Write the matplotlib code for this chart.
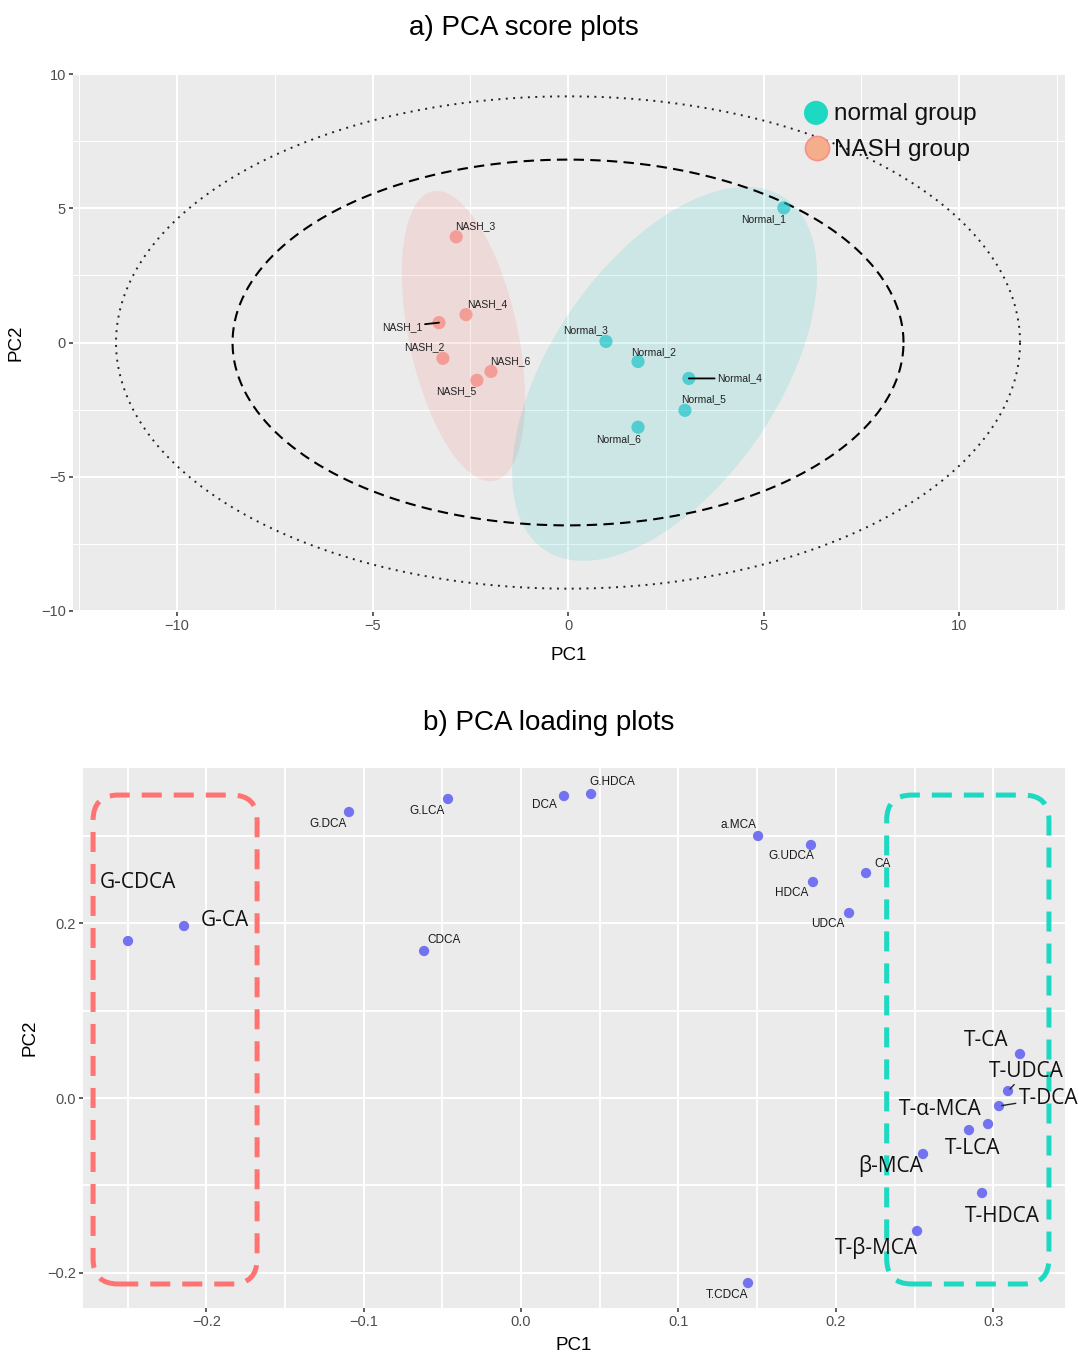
import numpy as np
import matplotlib
matplotlib.use("Agg")
import matplotlib.pyplot as plt
from matplotlib.patches import Polygon, FancyBboxPatch

plt.rcParams['font.family'] = ['Liberation Sans', 'DejaVu Sans']

# ---- a) PCA scores ----
nash_names = ["NASH_1", "NASH_2", "NASH_3", "NASH_4", "NASH_5", "NASH_6"]
nash_pc1 = [-3.30, -3.20, -2.86, -2.61, -2.33, -1.97]
nash_pc2 = [0.74, -0.59, 3.94, 1.04, -1.41, -1.08]

normal_names = ["Normal_1", "Normal_2", "Normal_3", "Normal_4", "Normal_5", "Normal_6"]
normal_pc1 = [5.52, 1.79, 0.97, 3.09, 2.99, 1.79]
normal_pc2 = [5.02, -0.71, 0.04, -1.34, -2.53, -3.16]

# group ellipses (centre, shape matrix)
nash_ell_center = (-2.675, 0.24)
nash_ell_shape = [[2.48, -3.7], [-3.7, 29.3]]
normal_ell_center = (2.47, -1.17)
normal_ell_shape = [[15.2, 14.5], [14.5, 48.6]]
# Hotelling T2 limits (semi-axes)
t2_95 = (8.58, 6.82)
t2_99 = (11.56, 9.18)

# ---- b) PCA loadings ----
small_names = ["G.DCA", "G.LCA", "DCA", "G.HDCA", "a.MCA", "G.UDCA", "CA",
               "HDCA", "UDCA", "CDCA", "T.CDCA"]
small_pc1 = [-0.1093, -0.0464, 0.0273, 0.0445, 0.1506, 0.1842, 0.2192,
             0.1855, 0.2084, -0.0616, 0.1442]
small_pc2 = [0.3276, 0.3425, 0.3459, 0.3482, 0.3001, 0.2898, 0.2577,
             0.2474, 0.2119, 0.1684, -0.2119]

big_names = ["G-CDCA", "G-CA", "T-CA", "T-UDCA", "T-DCA", "T-α-MCA", "T-LCA",
             "β-MCA", "T-HDCA", "T-β-MCA"]
big_pc1 = [-0.2497, -0.2141, 0.3170, 0.3094, 0.3037, 0.2846, 0.2967,
           0.2554, 0.2929, 0.2516]
big_pc2 = [0.1798, 0.1970, 0.0504, 0.0080, -0.0092, -0.0367, -0.0298,
           -0.0641, -0.1088, -0.1523]

# label offsets in points
nash_off = [(-26.6, -2.9), (-13.7, 7.9), (13.7, 7.9), (15.1, 7.9), (-15.1, -7.9), (13.7, 7.2)]
normal_off = [(-14.4, -7.9), (11.5, 6.5), (-14.4, 7.9), (36.7, 0), (13.7, 7.9), (-13.7, -8.6)]
nash_line = [True, False, False, False, False, False]
normal_line = [False, False, False, True, False, False]
small_off = [(-15.1, -8.6), (-15.1, -8.6), (-14.4, -6.5), (15.1, 8.6), (-14.4, 7.9),
             (-14.4, -7.9), (12.2, 6.5), (-15.1, -7.9), (-15.1, -7.9), (14.4, 7.9), (-15.1, -8.6)]
big_off = [(7.2, 41.8), (29.5, 4.3), (-24.5, 9.4), (13.5, 14.2), (35.5, 5.8), (-20.9, 15.1),
           (-10.8, -17.3), (-23.0, -8.6), (14.4, -16.6), (-29.5, -12.2)]
big_line = [False, False, False, True, True, False, False, False, False, False]

BG = "#EBEBEB"
NASH_COL = "#F8766D"
NORMAL_COL = "#00BFC4"
POINT_COL = "#7373F2"


def ellipse_xy(center, shape, n=300):
    L = np.linalg.cholesky(np.array(shape))
    t = np.linspace(0, 2 * np.pi, n)
    u = np.vstack([np.cos(t), np.sin(t)])
    xy = L @ u
    return np.column_stack([xy[0] + center[0], xy[1] + center[1]])


def gg_axes(ax, xmaj, xmin, ymaj, ymin):
    ax.set_facecolor(BG)
    for s in ax.spines.values():
        s.set_visible(False)
    ax.set_xticks(xmaj)
    ax.set_xticks(xmin, minor=True)
    ax.set_yticks(ymaj)
    ax.set_yticks(ymin, minor=True)
    ax.grid(which="major", color="white", lw=1.5)
    ax.grid(which="minor", color="white", lw=0.75)
    ax.tick_params(which="major", length=3, width=1.1, color="#333333",
                   labelcolor="#4D4D4D", labelsize=10.5, pad=2)
    ax.tick_params(which="minor", length=0)
    ax.set_axisbelow(True)


fig = plt.figure(figsize=(10.79, 13.52), dpi=100)

# ================= top panel =================
ax1 = fig.add_axes([73 / 1079, 1 - 612 / 1352, 992 / 1079, 539 / 1352])
gg_axes(ax1, [-10, -5, 0, 5, 10], [-12.5, -7.5, -2.5, 2.5, 7.5, 12.5],
        [-10, -5, 0, 5, 10], [-7.5, -2.5, 2.5, 7.5])
ax1.set_xticklabels(["\u221210", "\u22125", "0", "5", "10"])
ax1.set_yticklabels(["\u221210", "\u22125", "0", "5", "10"])
ax1.set_xlim(-12.66, 12.71)
ax1.set_ylim(-10.05, 10.05)

ax1.add_patch(Polygon(ellipse_xy(nash_ell_center, nash_ell_shape), closed=True,
                      facecolor=NASH_COL, alpha=0.15, edgecolor="none"))
ax1.add_patch(Polygon(ellipse_xy(normal_ell_center, normal_ell_shape), closed=True,
                      facecolor=NORMAL_COL, alpha=0.13, edgecolor="none"))

t = np.linspace(0, 2 * np.pi, 400)
ax1.plot(t2_95[0] * np.cos(t), t2_95[1] * np.sin(t), color="black", lw=1.5, ls=(0, (5, 3)))
ax1.plot(t2_99[0] * np.cos(t), t2_99[1] * np.sin(t), color="#222222", lw=1.4, ls=(0, (1, 2.8)))

ax1.scatter(nash_pc1, nash_pc2, s=90, color=NASH_COL, alpha=0.6, edgecolors="none", zorder=3)
ax1.scatter(normal_pc1, normal_pc2, s=90, color=NORMAL_COL, alpha=0.6, edgecolors="none", zorder=3)

for names, xs, ys, offs, lines in [(nash_names, nash_pc1, nash_pc2, nash_off, nash_line),
                                   (normal_names, normal_pc1, normal_pc2, normal_off, normal_line)]:
    for nm, x, y, off, ln in zip(names, xs, ys, offs, lines):
        ap = dict(arrowstyle="-", lw=1.3, color="black", shrinkA=0, shrinkB=0) if ln else None
        ax1.annotate(nm, (x, y), xytext=off, textcoords="offset points", ha="center",
                     va="center", fontsize=7.5, color="#222222", arrowprops=ap, zorder=4)

# legend (pasted style)
ax1.scatter([0.749], [0.926], s=300, color="#1DD9C2", transform=ax1.transAxes, zorder=5,
            edgecolors="none", clip_on=False)
ax1.scatter([0.750], [0.861], s=300, color="#F4AE8A", transform=ax1.transAxes, zorder=5,
            edgecolors="#F8908A", linewidths=1.2, clip_on=False)
ax1.text(0.767, 0.924, "normal group", transform=ax1.transAxes, fontsize=17.5,
         va="center", ha="left", color="#111111")
ax1.text(0.767, 0.857, "NASH group", transform=ax1.transAxes, fontsize=17.5,
         va="center", ha="left", color="#111111")

ax1.set_xlabel("PC1", fontsize=13.5, labelpad=10)
ax1.set_ylabel("PC2", fontsize=13.5, labelpad=12)
fig.text(524 / 1079, 1 - 28 / 1352, "a) PCA score plots", fontsize=20, ha="center", va="center")

# ================= bottom panel =================
ax2 = fig.add_axes([83 / 1079, 1 - 1308 / 1352, 982 / 1079, 540 / 1352])
gg_axes(ax2, [-0.2, -0.1, 0.0, 0.1, 0.2, 0.3],
        [-0.25, -0.15, -0.05, 0.05, 0.15, 0.25],
        [-0.2, 0.0, 0.2], [-0.1, 0.1, 0.3])
ax2.grid(which="minor", color="white", lw=1.3)
ax2.set_xticklabels(["\u22120.2", "\u22120.1", "0.0", "0.1", "0.2", "0.3"])
ax2.set_yticklabels(["\u22120.2", "0.0", "0.2"])
ax2.set_xlim(-0.2783, 0.3456)
ax2.set_ylim(-0.2405, 0.378)

ax2.scatter(small_pc1 + big_pc1, small_pc2 + big_pc2, s=55, color=POINT_COL,
            edgecolors="none", zorder=3)

for nm, x, y, off in zip(small_names, small_pc1, small_pc2, small_off):
    ax2.annotate(nm, (x, y), xytext=off, textcoords="offset points", ha="center",
                 va="center", fontsize=8.5, color="#1A1A1A", zorder=4)

for nm, x, y, off, ln in zip(big_names, big_pc1, big_pc2, big_off, big_line):
    ap = dict(arrowstyle="-", lw=1.0, color="#222222", shrinkA=0, shrinkB=2) if ln else None
    ax2.annotate(nm, (x, y), xytext=off, textcoords="offset points", ha="center",
                 va="center", fontsize=15, color="#111111", arrowprops=ap, zorder=4,
                 family=["Open Sans", "DejaVu Sans"])

# dashed rounded group boxes
for x0, x1, col in [(-0.2719, -0.1677, "#FF7373"), (0.2323, 0.3354, "#1DD9C2")]:
    box = FancyBboxPatch((x0, -0.213), x1 - x0, 0.347 + 0.213,
                         boxstyle="round,pad=0,rounding_size=0.016", mutation_aspect=1.8,
                         facecolor="none", edgecolor=col, lw=3.6, ls=(0, (4, 2.4)),
                         zorder=2)
    ax2.add_patch(box)

ax2.set_xlabel("PC1", fontsize=13.5, labelpad=6)
ax2.set_ylabel("PC2", fontsize=13.5, labelpad=6)
fig.text(549 / 1079, 1 - 723 / 1352, "b) PCA loading plots", fontsize=20, ha="center", va="center")

fig.savefig("out.png", dpi=100)
